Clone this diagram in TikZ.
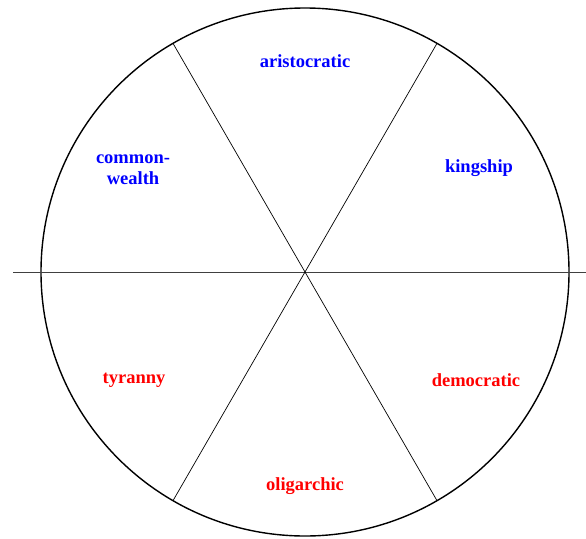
\documentclass[tikz,border=0pt]{standalone}
\usepackage{fontspec}
\setmainfont{Liberation Serif}
\begin{document}
\begin{tikzpicture}[x=1pt,y=-1pt,
  lab/.style={font=\fontsize{18.5}{21}\selectfont\bfseries, align=center, inner sep=0pt},
  good/.style={lab, text={rgb,255:red,0;green,0;blue,255}},
  bad/.style={lab, text={rgb,255:red,255;green,0;blue,0}},
  spoke/.style={line width=0.7pt, black}]
\useasboundingbox (0,0) rectangle (586,538);
\node[circle, draw, line width=1.4pt, minimum size=528pt, inner sep=0pt, outer sep=0pt] (c) at (305,272) {};
\coordinate (hl) at (13,272);
\coordinate (hr) at (586,272);
\draw[line width=0.8pt, black!75] (hl) -- (hr);
\draw[spoke] (c.120) -- (c.300);
\draw[spoke] (c.60) -- (c.240);
\node[good] (ar) at (305,61.5) {aristocratic};
\node[good] (ki) at (479,168.5) {kingship};
\node[good] (co) at (133,170) {common-\\wealth};
\node[bad] (ty) at (134,380.5) {tyranny};
\node[bad] (de) at (476,380.5) {democratic};
\node[bad] (ol) at (305,486.5) {oligarchic};
\end{tikzpicture}
\end{document}
